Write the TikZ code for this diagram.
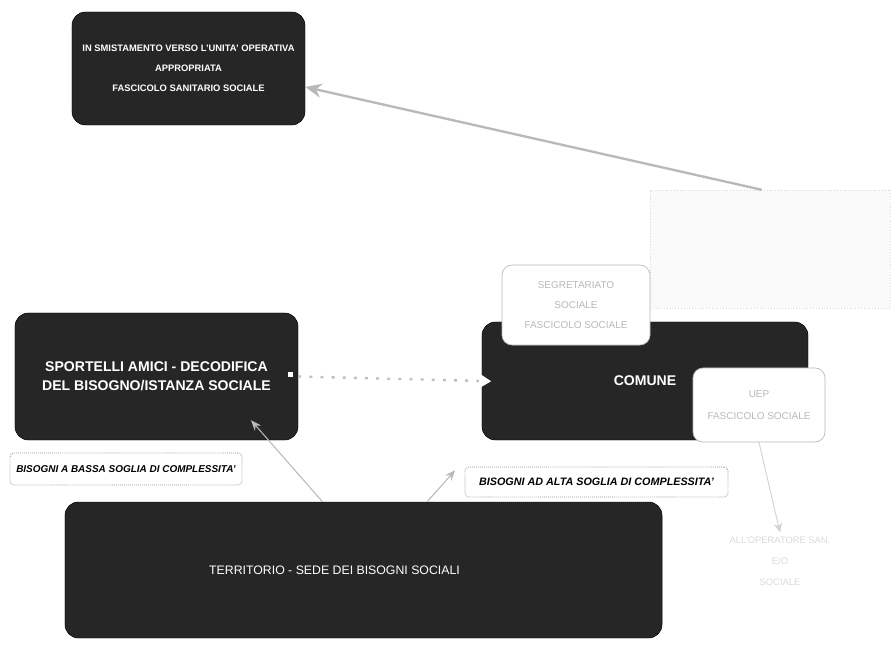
\documentclass[tikz,border=0pt]{standalone}
\usepackage{fontspec}
\setmainfont{Liberation Sans}
\usetikzlibrary{arrows.meta}

\tikzset{
  darkbox/.style={draw=black, fill=black!85, rounded corners=0.4cm, text=white, align=center, inner sep=0pt},
  whitebox/.style={draw=gray!55, fill=white, rounded corners=0.3cm, text=gray!55, align=center, inner sep=0pt, line width=0.6pt},
  tagbox/.style={draw=gray!85, densely dotted, line width=0.7pt, fill=white, rounded corners=0.12cm, inner sep=0pt},
  ghostbox/.style={draw=gray!30, dotted, fill=gray!4, inner sep=0pt},
  mainlink/.style={gray!55, line width=2pt, -{Stealth[length=14pt,width=12pt]}},
  feedlink/.style={gray!55, line width=0.9pt, -{Stealth[length=9pt,width=7pt]}},
  dotlink/.style={gray!50, line width=2pt, dash pattern=on 2.5pt off 7pt, shorten >=-8pt, -{Triangle[length=10pt,width=12pt,color=white,fill=white]}},
}

\begin{document}
\begin{tikzpicture}[x=0.03cm,y=-0.03cm]
  \useasboundingbox (0,0) rectangle (891,650);

  % upper boxes
  \node[darkbox, minimum width=6.99cm, minimum height=3.39cm, font=\fontsize{8}{17}\selectfont\bfseries] (smist) at (188.5,68.5)
    {IN SMISTAMENTO VERSO L'UNITA' OPERATIVA\\APPROPRIATA\\FASCICOLO SANITARIO SOCIALE};
  \node[ghostbox, minimum width=7.2cm, minimum height=3.54cm] (ghost) at (770,249) {};

  % comune with its two offices
  \node[darkbox, minimum width=9.78cm, minimum height=3.54cm, font=\fontsize{12}{14}\selectfont\bfseries] (comune) at (645,381) {COMUNE};
  \node[whitebox, minimum width=4.44cm, minimum height=2.4cm, font=\fontsize{8.5}{17}\selectfont] (segr) at (576,305)
    {SEGRETARIATO\\SOCIALE\\FASCICOLO SOCIALE};
  \node[whitebox, minimum width=3.96cm, minimum height=2.22cm, font=\fontsize{8.5}{19}\selectfont] (uep) at (759,405)
    {UEP\\FASCICOLO SOCIALE};

  \node[darkbox, minimum width=8.49cm, minimum height=3.81cm, font=\fontsize{12}{16}\selectfont\bfseries] (sport) at (156.5,376.5)
    {SPORTELLI AMICI - DECODIFICA\\DEL BISOGNO/ISTANZA SOCIALE};

  % labels of the two paths
  \node[tagbox, minimum width=6.96cm, minimum height=0.96cm, font=\fontsize{8.5}{10}\selectfont\bfseries\itshape] (bassa) at (126,469) {BISOGNI A BASSA SOGLIA DI COMPLESSITA'};
  \node[tagbox, minimum width=7.89cm, minimum height=0.9cm, font=\fontsize{9.2}{11}\selectfont\bfseries\itshape] (alta) at (596.5,482) {BISOGNI AD ALTA SOGLIA DI COMPLESSITA'};

  \node[darkbox, minimum width=17.91cm, minimum height=4.08cm, font=\fontsize{10.5}{13}\selectfont] (terr) at (363.5,570)
    {TERRITORIO - SEDE DEI BISOGNI SOCIALI\hspace*{1.74cm}};

  \node[text=gray!30, align=center, font=\fontsize{8}{18}\selectfont] (oper) at (780,561)
    {ALL'OPERATORE SAN.\\E/O\\SOCIALE};

  % connectors
  \draw[mainlink] (ghost.98) -- (smist.-9);
  \draw[dotlink] (sport.east) -- (comune.west);
  \fill[white] ([xshift=-9pt]sport.east) rectangle ++(5,-5);
  \draw[feedlink] (terr.121) -- ([shift={(0,-20)}]sport.-34);
  \draw[feedlink, shorten >=1.2cm] (terr.47) -- (comune.south west);
  \draw[gray!35, line width=0.8pt, -{Stealth[length=8pt,width=7pt]}] (uep.south) -- (oper.north);
\end{tikzpicture}
\end{document}
